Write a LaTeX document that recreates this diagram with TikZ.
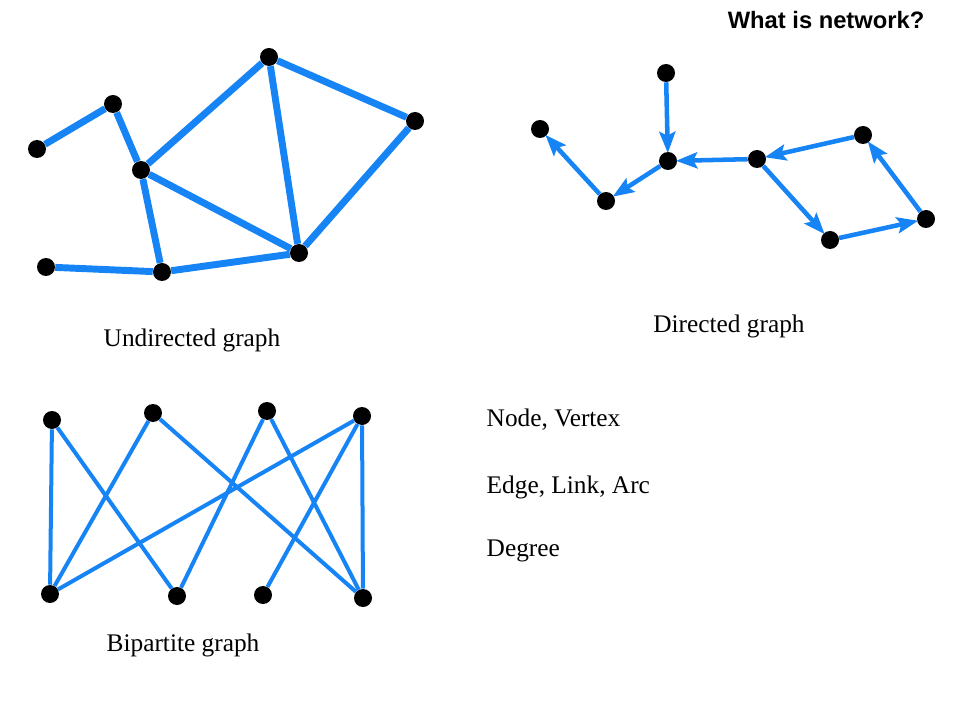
\documentclass[tikz,border=0pt]{standalone}
\usepackage{fontspec}
\setmainfont{Liberation Serif}
\setsansfont{Liberation Sans}
\usetikzlibrary{arrows.meta,positioning}
\definecolor{netblue}{RGB}{22,132,245}
\tikzset{
    dot/.style={circle, fill=black, inner sep=0pt, minimum size=13.5pt},
    uline/.style={draw=netblue, line width=5.2pt},
    dline/.style={draw=netblue, line width=3.4pt, -{Stealth[length=16pt,width=12pt,inset=3pt]}, shorten >=-1pt},
    bline/.style={draw=netblue, line width=3pt},
    caption/.style={font=\fontsize{19}{22}\selectfont},
}
\begin{document}
\begin{tikzpicture}
        [x=0.75pt, y=-0.75pt]
        \useasboundingbox (0,0) rectangle (960,720);

        \node[anchor=east, font=\sffamily\bfseries\fontsize{17.8}{20}\selectfont] (title) at (929,20) {What is network?};

        % undirected graph
        \node[dot] (u1) at (37,149) {};
        \node[dot] (u2) at (113,104) {};
        \node[dot] (u3) at (141,170) {};
        \node[dot] (u4) at (269,57) {};
        \node[dot] (u5) at (415,121) {};
        \node[dot] (u6) at (299,253) {};
        \node[dot] (u7) at (162,272) {};
        \node[dot] (u8) at (46,267) {};

        \draw[uline] (u1) -- (u2);
        \draw[uline] (u2) -- (u3);
        \draw[uline] (u3) -- (u4);
        \draw[uline] (u3) -- (u6);
        \draw[uline] (u3) -- (u7);
        \draw[uline] (u4) -- (u5);
        \draw[uline] (u4) -- (u6);
        \draw[uline] (u5) -- (u6);
        \draw[uline] (u8) -- (u7);
        \draw[uline] (u7) -- (u6);

        \node[caption] (ucap) at (192,340) {Undirected graph};

        % directed graph
        \node[dot] (d1) at (540,129) {};
        \node[dot] (d2) at (606,201) {};
        \node[dot] (d3) at (666,73) {};
        \node[dot] (d4) at (668,161) {};
        \node[dot] (d5) at (757,159) {};
        \node[dot] (d6) at (863,135) {};
        \node[dot] (d7) at (926,219) {};
        \node[dot] (d8) at (830,240) {};

        \draw[dline] (d3) -- (d4);
        \draw[dline] (d5) -- (d4);
        \draw[dline] (d4) -- (d2);
        \draw[dline] (d2) -- (d1);
        \draw[dline] (d6) -- (d5);
        \draw[dline] (d5) -- (d8);
        \draw[dline] (d8) -- (d7);
        \draw[dline] (d7) -- (d6);

        \node[caption] (dcap) at (729,326) {Directed graph};

        % bipartite graph
        \node[dot] (t1) at (52,420) {};
        \node[dot] (t2) at (153,413) {};
        \node[dot] (t3) at (267,411) {};
        \node[dot] (t4) at (362,416) {};
        \node[dot] (b1) at (50,594) {};
        \node[dot] (b2) at (177,596) {};
        \node[dot] (b3) at (263,595) {};
        \node[dot] (b4) at (363,598) {};

        \foreach \s/\t in {t1/b1, t1/b2, t2/b1, t2/b4, t3/b2, t3/b4, t4/b1, t4/b3, t4/b4}
            \draw[bline] (\s) -- (\t);

        \node[caption] (bcap) at (183,645) {Bipartite graph};

        % terms
        \node[caption, anchor=west] (vertex) at (482,420) {Node, Vertex};
        \node[caption, anchor=west] (edge) at (482,487) {Edge, Link, Arc};
        \node[caption, anchor=west] (degree) at (482,551) {Degree};

    \end{tikzpicture}
\end{document}
